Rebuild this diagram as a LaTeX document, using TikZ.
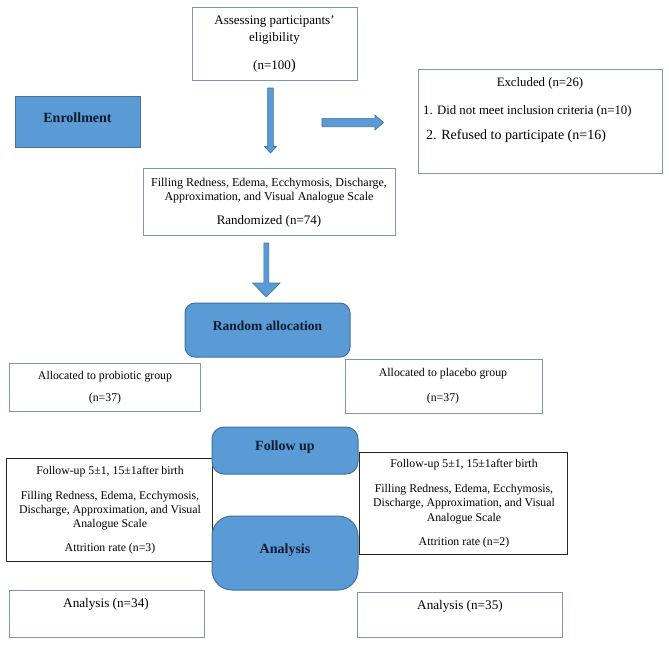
\documentclass[tikz,border=0pt]{standalone}
\usepackage{fontspec}
\setmainfont{Liberation Serif}
\usetikzlibrary{fit}
\definecolor{fillblue}{HTML}{5B9BD5}
\definecolor{edgeblue}{HTML}{41719C}
\definecolor{boxgray}{HTML}{7D96B4}
\definecolor{navy}{HTML}{0E1A2E}
\newcommand\fsz[1]{\fontsize{#1}{14}\selectfont}
\newcommand\fb{\fontsize{14}{16}\selectfont\bfseries}
\tikzset{
  plainbox/.style={draw=boxgray, line width=1pt, inner sep=0pt},
  blackbox/.style={draw=black!85, line width=0.9pt, inner sep=0pt},
  phasebox/.style={fill=fillblue, draw=edgeblue, line width=1pt, inner sep=0pt},
  txt/.style={font=\fsz{11.5}, inner sep=0pt, anchor=base, text=black},
  txtl/.style={font=\fsz{11.5}, inner sep=0pt, anchor=base west, text=black},
  phasetxt/.style={font=\fb, inner sep=0pt, anchor=base, text=navy},
  blockarrow/.style={fill=fillblue, draw=edgeblue, line width=0.6pt, line join=miter}
}
\begin{document}
\begin{tikzpicture}[x=1pt,y=-1pt]
\useasboundingbox (0,0) rectangle (669,646);

% boxes
\node[plainbox, fit={(192,7) (357,80)}] (assess) {};
\node[plainbox, fit={(418,69) (662,173)}] (excl) {};
\node[phasebox, fit={(15,96) (140,147)}] (enrol) {};
\node[plainbox, fit={(143,168) (395,235)}] (rand) {};
\node[phasebox, rounded corners=10pt, fit={(185,303) (350,357)}] (alloc) {};
\node[plainbox, fit={(9,363) (200,411)}] (probio) {};
\node[plainbox, fit={(345,359) (542,413)}] (placebo) {};
\node[blackbox, fit={(6,458) (212,561)}] (fuleft) {};
\node[blackbox, fit={(359,452) (567,554)}] (furight) {};
\node[phasebox, rounded corners=12pt, fit={(212,427) (358,474)}] (follow) {};
\node[phasebox, rounded corners=20pt, fit={(212,516) (358,590)}] (analysis) {};
\node[plainbox, fit={(9,590) (204,637)}] (anleft) {};
\node[plainbox, fit={(357,592) (562,637)}] (anright) {};

% texts
\node[txt, font=\fsz{13}] (a1) at (274.5,24) {Assessing participants’};
\node[txt, font=\fsz{13}] (a2) at (274.5,41) {eligibility};
\node[txt, font=\fsz{13}] (a3) at (274.5,69) {(n=100{\fontsize{15}{14}\selectfont)}};

\node[txt, font=\fsz{12.8}] (e1) at (540,86) {Excluded (n=26)};
\node[txtl, font=\fsz{12.8}] (e2) at (423,114) {1. Did not meet inclusion criteria (n=10)};
\node[txtl, font=\fsz{14}] (e3) at (426,139.5) {2. Refused to participate (n=16)};

\node[phasetxt] (enroltxt) at (77.5,122) {Enrollment};

\node[txt, font=\fsz{12}] (r1) at (269,186) {Filling Redness, Edema, Ecchymosis, Discharge,};
\node[txt, font=\fsz{12}] (r2) at (269,200) {Approximation, and Visual Analogue Scale};
\node[txt, font=\fsz{13}] (r3) at (269,224.5) {Randomized (n=74)};

\node[phasetxt, font=\fontsize{13.5}{16}\selectfont\bfseries] (alloctxt) at (267.5,330) {Random allocation};

\node[txt, font=\fsz{11.8}] (p1) at (105,379) {Allocated to probiotic group};
\node[txt, font=\fsz{11.8}] (p2) at (105,401) {(n=37)};
\node[txt, font=\fsz{11.8}] (q1) at (443,376) {Allocated to placebo group};
\node[txt, font=\fsz{11.8}] (q2) at (443,401) {(n=37)};

\node[phasetxt] (followtxt) at (285,450) {Follow up};
\node[phasetxt] (analysistxt) at (285,553) {Analysis};

\node[txt, font=\fsz{11.8}] (l1) at (110,474) {Follow-up 5±1, 15±1after birth};
\node[txt, font=\fsz{11.8}] (l2) at (110,499) {Filling Redness, Edema, Ecchymosis,};
\node[txt, font=\fsz{11.8}] (l3) at (110,513) {Discharge, Approximation, and Visual};
\node[txt, font=\fsz{11.8}] (l4) at (110,527) {Analogue Scale};
\node[txt, font=\fsz{11.8}] (l5) at (110,551) {Attrition rate (n=3)};

\node[txt, font=\fsz{11.8}] (m1) at (464,467) {Follow-up 5±1, 15±1after birth};
\node[txt, font=\fsz{11.8}] (m2) at (464,492) {Filling Redness, Edema, Ecchymosis,};
\node[txt, font=\fsz{11.8}] (m3) at (464,506) {Discharge, Approximation, and Visual};
\node[txt, font=\fsz{11.8}] (m4) at (464,521) {Analogue Scale};
\node[txt, font=\fsz{11.8}] (m5) at (464,545) {Attrition rate (n=2)};

\node[txt, font=\fsz{13.2}] (n1) at (106,607.5) {Analysis (n=34)};
\node[txt, font=\fsz{13.2}] (n2) at (460,609.5) {Analysis (n=35)};

% block arrows
\draw[blockarrow] (267.7,88) -- (273.3,88) -- (273.3,146.5) -- (276.5,146.5) -- (270.5,153)
  -- (264.5,146.5) -- (267.7,146.5) -- cycle;
\draw[blockarrow] (322,118.3) -- (375,118.3) -- (375,115) -- (383.5,122.5) -- (375,130)
  -- (375,126.7) -- (322,126.7) -- cycle;
\draw[blockarrow] (263.8,243) -- (268.8,243) -- (268.8,283) -- (280,283) -- (266.3,297)
  -- (252.6,283) -- (263.8,283) -- cycle;
\end{tikzpicture}
\end{document}
